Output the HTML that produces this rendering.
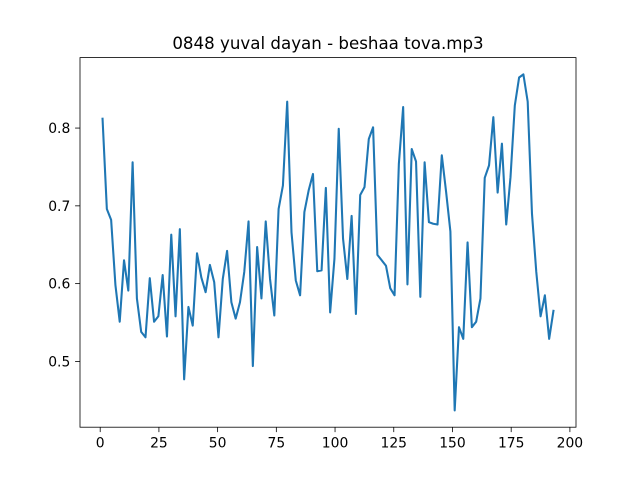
<!DOCTYPE html>
<html><head><meta charset="utf-8"><style>
body{margin:0;background:#fff}
svg text{font-family:"DejaVu Sans","Liberation Sans",sans-serif;fill:#000}
</style></head><body>
<svg id="chart" width="640" height="480" viewBox="0 0 640 480" xmlns="http://www.w3.org/2000/svg">
<rect width="640" height="480" fill="#fff"/>
<text x="328" y="49" font-size="16.67" text-anchor="middle">0848 yuval dayan - beshaa tova.mp3</text>
<g id="plot"></g>
<rect x="80" y="57.6" width="496" height="369.6" fill="none" stroke="#000" stroke-width="0.8"/>
</svg>
<script>
const yValues=[0.812,0.696,0.682,0.598,0.551,0.630,0.591,0.756,0.581,0.538,0.531,0.607,0.551,0.558,0.611,0.532,0.663,0.558,0.670,0.477,0.570,0.546,0.639,0.608,0.589,0.624,0.602,
0.531,0.606,0.642,0.576,0.555,0.576,0.615,0.680,0.494,0.647,0.581,0.680,0.606,0.559,0.696,0.726,0.834,0.666,0.604,0.585,0.692,0.720,0.741,0.616,0.617,0.723,0.563,
0.632,0.799,0.658,0.606,0.687,0.561,0.714,0.724,0.786,0.801,0.637,0.630,0.623,0.594,0.585,0.754,0.827,0.599,0.773,0.757,0.583,0.756,0.679,0.677,0.676,
0.765,0.718,0.667,0.437,0.544,0.529,0.653,0.544,0.551,0.581,0.736,0.752,0.814,0.717,0.780,0.676,0.737,0.829,0.865,0.869,0.834,0.690,0.615,0.558,0.585,0.529,0.565];
const xStart=1, xEnd=193;
const xTicks=[0,25,50,75,100,125,150,175,200];
const yTicks=[0.5,0.6,0.7,0.8];
const yTickLabels=["0.5","0.6","0.7","0.8"];

const L=80,R=576,T=57.6,B=427.2;
const n=yValues.length;
const xVals=yValues.map((_,i)=>xStart+i*(xEnd-xStart)/(n-1));
const xmin=Math.min(...xVals),xmax=Math.max(...xVals);
const ymin=Math.min(...yValues),ymax=Math.max(...yValues);
const xLo=xmin-0.05*(xmax-xmin),xHi=xmax+0.05*(xmax-xmin);
const yLo=ymin-0.05*(ymax-ymin),yHi=ymax+0.05*(ymax-ymin);
const sx=v=>L+(v-xLo)/(xHi-xLo)*(R-L);
const sy=v=>B-(v-yLo)/(yHi-yLo)*(B-T);
const NS="http://www.w3.org/2000/svg";
const g=document.getElementById('plot');
function mk(tag,attrs){const e=document.createElementNS(NS,tag);for(const k in attrs)e.setAttribute(k,attrs[k]);g.appendChild(e);return e;}
xTicks.forEach(t=>{
  const x=sx(t);
  const ln=mk('line',{x1:x,x2:x,y1:B,y2:B+4.9,stroke:'#000','stroke-width':0.8});
  
  
  const tx=mk('text',{x:x,y:B+20.5,'font-size':13.89,'text-anchor':'middle'});
  tx.textContent=String(t);
  
  
});
yTicks.forEach((t,i)=>{
  const y=sy(t);
  const ln=mk('line',{x1:L-4.9,x2:L,y1:y,y2:y,stroke:'#000','stroke-width':0.8});
  
  
  const tx=mk('text',{x:L-9.7,y:y+5,'font-size':13.89,'text-anchor':'end'});
  tx.textContent=yTickLabels[i];
  
  
});
const pts=yValues.map((v,i)=>sx(xVals[i]).toFixed(2)+','+sy(v).toFixed(2)).join(' ');
const pl=mk('polyline',{points:pts,fill:'none',stroke:'#1f77b4','stroke-width':2.08,'stroke-linejoin':'round','stroke-linecap':'square'});


</script>
</body></html>
